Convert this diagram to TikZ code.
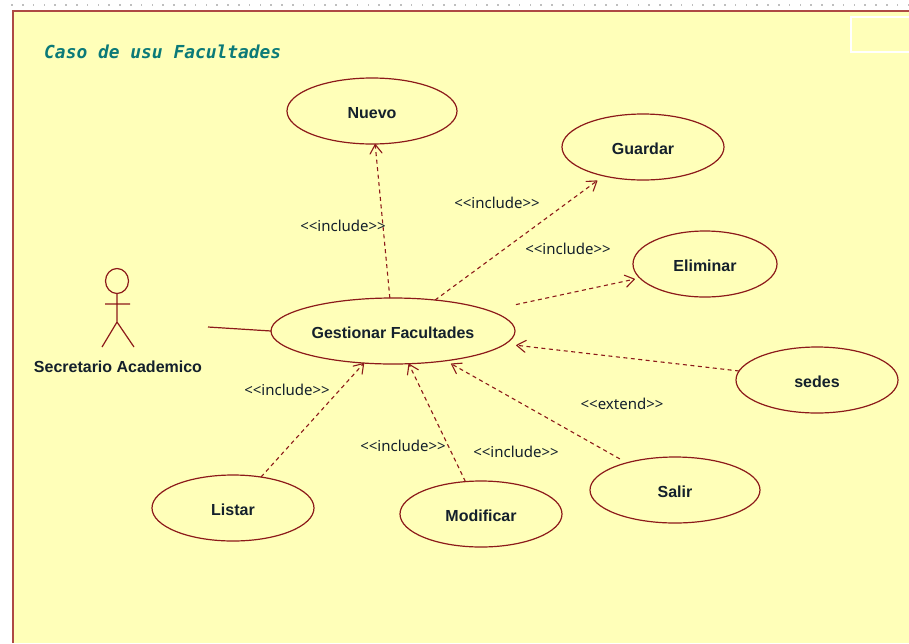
\documentclass[tikz,border=0pt]{standalone}
\usepackage{fontspec}
\setmainfont{Noto Sans}
\newfontfamily\titlefont{DejaVu Sans Mono}
\newfontfamily\ucfont{Liberation Sans}
\usetikzlibrary{shapes.geometric,arrows.meta}
\definecolor{bgy}{HTML}{FFFFB9}
\definecolor{ln}{HTML}{8C1A1A}
\definecolor{fr}{HTML}{AE4A44}
\definecolor{tl}{HTML}{0B7A78}
\definecolor{tx}{HTML}{14202C}
\newcommand{\uctext}[1]{\raisebox{-7.5pt}[8pt][8pt]{#1}}
\tikzset{
  x=1pt,y=-1pt,
  uc/.style={ellipse,draw=ln,line width=1.2pt,inner sep=0pt,outer sep=0pt,minimum width=#1,minimum height=66pt,
     font=\ucfont\fontsize{16}{18}\selectfont\bfseries,text=tx},
  uc/.default=162pt,
  dep/.style={draw=ln,line width=1.1pt,dash pattern=on 4pt off 3.5pt,-{Straight Barb[length=9pt,width=12pt,line width=1.1pt,round]}},
  lbl/.style={font=\fontsize{15}{17}\selectfont,text=tx,inner sep=0pt},
  act/.style={draw=ln,line width=1.2pt},
}
\begin{document}
\begin{tikzpicture}
\useasboundingbox (0,0) rectangle (909,643);
\fill[white] (0,0) rectangle (909,643);
\foreach \i in {0,...,83} \fill[black!25] ({12+\i*10.8-0.8},4.2) rectangle ++(1.6,1.6);
\fill[bgy] (12,11) rectangle (909,643);
\draw[fr,line width=2pt] (13,643) -- (13,11) -- (909,11);
\draw[white,line width=1.5pt] (909,17) -- (851,17) -- (851,52) -- (909,52);
\node[anchor=west,inner sep=0pt,text=tl] (title) at (44,52) {\titlefont\fontsize{17.9}{20}\selectfont\bfseries\itshape Caso de usu Facultades};

\node[uc=170pt] (nuevo) at (372,111) {\uctext{Nuevo}};
\node[uc] (guardar) at (643,147) {\uctext{Guardar}};
\node[uc=144pt] (eliminar) at (705,264) {\uctext{Eliminar}};
\node[uc] (sedes) at (817,380) {\uctext{sedes}};
\node[uc=170pt] (salir) at (675,490) {\uctext{Salir}};
\node[uc] (modificar) at (481,514) {\uctext{Modificar}};
\node[uc] (listar) at (233,508) {\uctext{Listar}};
\node[uc=244pt] (gest) at (393,331) {\uctext{Gestionar Facultades}};

% actor
\draw[act] (117,281) ellipse [x radius=11.5,y radius=12.5];
\draw[act] (117,293.5) -- (117,322) (105,304) -- (130,304) (102,347) -- (117,322) -- (134,347);
\node[font=\ucfont\fontsize{16}{18}\selectfont\bfseries,text=tx,inner sep=0pt] (actor) at (118,367) {Secretario Academico};
\coordinate (actorend) at (208,327);
\draw[ln,line width=1.2pt] (actorend) -- (gest.west);

\draw[dep] (gest) -- (nuevo);
\draw[dep,shorten >=8pt] (gest) -- (guardar);
\draw[dep,shorten <=28pt,shorten >=5pt] (gest) -- (eliminar);
\draw[dep,shorten >=11pt] (sedes) -- (gest);
\draw[dep,shorten <=8pt,shorten >=6pt] (salir) -- (gest);
\draw[dep] (modificar) -- (gest);
\draw[dep] (listar) -- (gest);

\node[lbl] (l1) at (343,226) {<{}<include>{}>};
\node[lbl] (l2) at (497,203) {<{}<include>{}>};
\node[lbl] (l3) at (568,249) {<{}<include>{}>};
\node[lbl] (l4) at (622,404) {<{}<extend>{}>};
\node[lbl] (l5) at (516,452) {<{}<include>{}>};
\node[lbl] (l6) at (403,446) {<{}<include>{}>};
\node[lbl] (l7) at (287,390) {<{}<include>{}>};
\end{tikzpicture}
\end{document}
